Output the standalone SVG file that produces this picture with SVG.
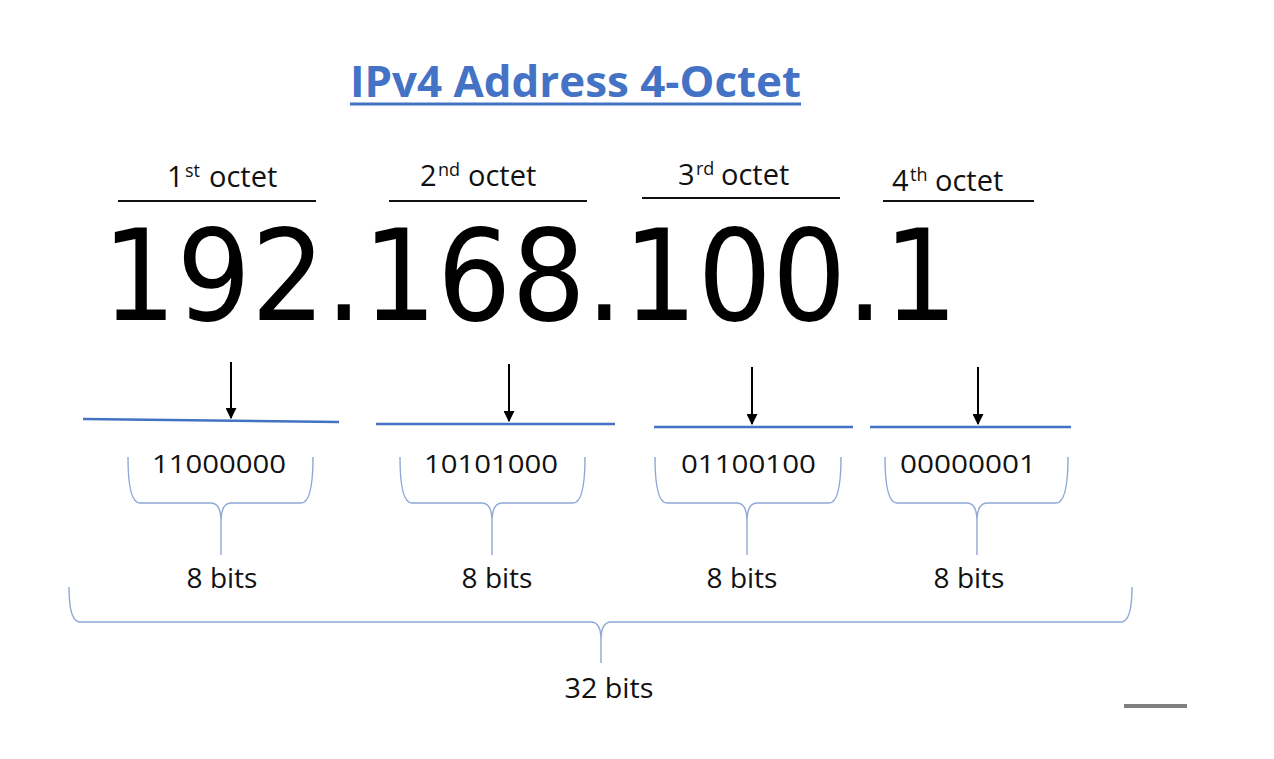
<svg xmlns="http://www.w3.org/2000/svg" width="1274" height="759" viewBox="0 0 1274 759">
<defs>
<style>
text{font-family:"Open Sans","Noto Sans","Liberation Sans",sans-serif;fill:#111}
.title{font-weight:bold;font-size:43px;fill:#4472C4}
.oct{font-size:29px}
.sup{font-size:18px}
.big{font-family:"DejaVu Sans","Liberation Sans",sans-serif;font-size:126px;fill:#000}
.bin{font-size:26px}
.bits{font-size:28px}
.ul{stroke:#111;stroke-width:2}
.bl{stroke:#4472C4;stroke-width:2.5}
.arr{stroke:#000;stroke-width:2;marker-end:url(#ah)}
.br{fill:none;stroke:#8FA8D6;stroke-width:1.4}
</style>
<marker id="ah" viewBox="0 0 10 10" refX="9" refY="5" markerWidth="5.5" markerHeight="5.5" orient="auto" markerUnits="strokeWidth">
<path d="M0,0 L10,5 L0,10 z" fill="#000"/>
</marker>
</defs>
<rect width="1274" height="759" fill="#fff"/>

<g id="title">
<text class="title" x="350" y="97" textLength="451" lengthAdjust="spacingAndGlyphs">IPv4 Address 4-Octet</text>
<line x1="350" y1="104" x2="801" y2="104" stroke="#4472C4" stroke-width="3"/>
</g>

<g id="octet1">
<text class="oct" x="167" y="187">1</text>
<text class="sup" x="185" y="177">st</text>
<text class="oct" x="209" y="187">octet</text>
<line class="ul" x1="118" y1="201" x2="316" y2="201"/>
</g>
<g id="octet2">
<text class="oct" x="420" y="186">2</text>
<text class="sup" x="438" y="176">nd</text>
<text class="oct" x="468" y="186">octet</text>
<line class="ul" x1="389" y1="201" x2="587" y2="201"/>
</g>
<g id="octet3">
<text class="oct" x="678" y="185">3</text>
<text class="sup" x="696" y="175">rd</text>
<text class="oct" x="721" y="185">octet</text>
<line class="ul" x1="642" y1="198" x2="840" y2="198"/>
</g>
<g id="octet4">
<text class="oct" x="892" y="191">4</text>
<text class="sup" x="910" y="181">th</text>
<text class="oct" x="935" y="191">octet</text>
<line class="ul" x1="883" y1="201" x2="1034" y2="201"/>
</g>

<g id="address">
<text class="big" x="102" y="320" textLength="856" lengthAdjust="spacingAndGlyphs">192.168.100.1</text>
</g>

<g id="connectors">
<line class="arr" x1="231" y1="362" x2="231" y2="418"/>
<line class="arr" x1="509" y1="364" x2="509" y2="421"/>
<line class="arr" x1="752" y1="367" x2="752" y2="424"/>
<line class="arr" x1="978" y1="367" x2="978" y2="424"/>
<line class="bl" x1="83" y1="419" x2="339" y2="422"/>
<line class="bl" x1="376" y1="424" x2="615" y2="424"/>
<line class="bl" x1="654" y1="427" x2="853" y2="427"/>
<line class="bl" x1="870" y1="427" x2="1071" y2="427"/>
<path class="br" d="M128,457 Q128,503 140,503 L211,503 Q221,503 221,522 L221,555 M313,457 Q313,503 301,503 L231,503 Q221,503 221,522"/>
<path class="br" d="M400,457 Q400,503 412,503 L482,503 Q492,503 492,522 L492,555 M585,457 Q585,503 573,503 L502,503 Q492,503 492,522"/>
<path class="br" d="M655,457 Q655,503 667,503 L737,503 Q747,503 747,522 L747,555 M841,457 Q841,503 829,503 L757,503 Q747,503 747,522"/>
<path class="br" d="M885,457 Q885,503 897,503 L967,503 Q977,503 977,522 L977,555 M1068,457 Q1068,503 1056,503 L987,503 Q977,503 977,522"/>
<path class="br" d="M69,587 Q69,622 80,622 L591,622 Q601,622 601,640 L601,663 M1132,587 Q1132,622 1121,622 L611,622 Q601,622 601,640"/>
</g>

<g id="bin1"><text class="bin" x="152" y="473" textLength="134" lengthAdjust="spacingAndGlyphs">11000000</text></g>
<g id="bin2"><text class="bin" x="424" y="473" textLength="134" lengthAdjust="spacingAndGlyphs">10101000</text></g>
<g id="bin3"><text class="bin" x="681" y="473" textLength="135" lengthAdjust="spacingAndGlyphs">01100100</text></g>
<g id="bin4"><text class="bin" x="900" y="473" textLength="136" lengthAdjust="spacingAndGlyphs">00000001</text></g>

<g id="bits1"><text class="bits" x="222" y="588" text-anchor="middle">8 bits</text></g>
<g id="bits2"><text class="bits" x="497" y="588" text-anchor="middle">8 bits</text></g>
<g id="bits3"><text class="bits" x="742" y="588" text-anchor="middle">8 bits</text></g>
<g id="bits4"><text class="bits" x="969" y="588" text-anchor="middle">8 bits</text></g>
<g id="bits32"><text class="bits" x="609" y="698" text-anchor="middle" textLength="89" lengthAdjust="spacingAndGlyphs">32 bits</text></g>

<g id="mark"><line x1="1124" y1="706" x2="1187" y2="706" stroke="#808080" stroke-width="4"/></g>
</svg>
